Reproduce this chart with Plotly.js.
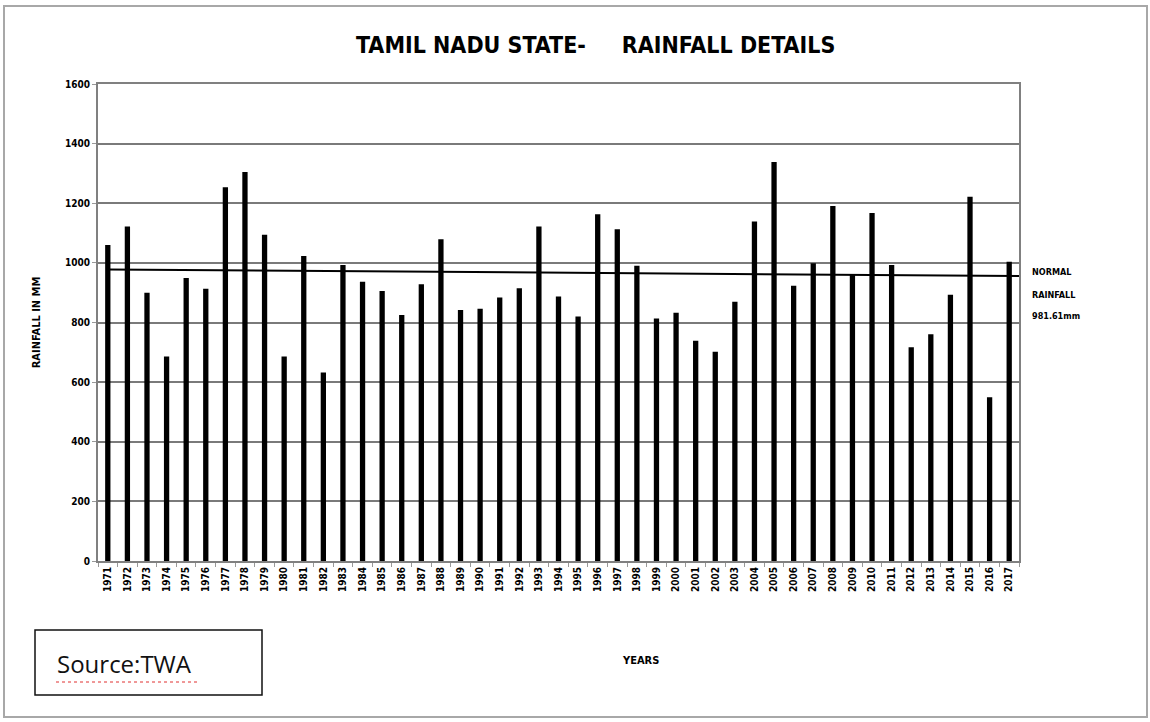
<!DOCTYPE html>
<html>
<head>
<meta charset="utf-8">
<script src="https://cdn.plot.ly/plotly-3.0.1.min.js"></script>
<style>html,body{margin:0;padding:0;background:#fff}#chart{width:1150px;height:722px}</style>
</head>
<body>
<div id="chart"></div>
<script>
const years = [1971,1972,1973,1974,1975,1976,1977,1978,1979,1980,1981,1982,1983,1984,1985,1986,1987,1988,1989,1990,1991,1992,1993,1994,1995,1996,1997,1998,1999,2000,2001,2002,2003,2004,2005,2006,2007,2008,2009,2010,2011,2012,2013,2014,2015,2016,2017];
const yearLabels = years.map(String);
const rainfall = [1060,1122,900,686,949,913,1254,1305,1094,686,1023,632,993,937,906,825,928,1079,842,846,884,915,1122,887,820,1163,1113,990,813,833,739,702,870,1139,1338,923,999,1191,960,1167,993,717,761,893,1222,549,1004];
const normalYears = [1971, 2017.5];
const normalValues = [978, 956];
const normalLabel = ["NORMAL", "RAINFALL", "981.61mm"];
const yTicks = [0,200,400,600,800,1000,1200,1400,1600];

const L = 98, R = 1019, T = 84, B = 561;
const W = R - L, H = B - T;
const px = v => (v - L) / W;
const py = v => (B - v) / H;

const boldFont = "Liberation Sans Narrow, DejaVu Sans Condensed, Arial Narrow, Liberation Sans, Arial, sans-serif";

const traces = [
  {
    type: 'bar', x: years, y: rainfall, width: 0.27,
    marker: {color: '#000000', line: {width: 0}},
    hoverinfo: 'x+y', showlegend: false
  },
  {
    type: 'scatter', mode: 'lines', x: normalYears, y: normalValues,
    line: {color: '#000000', width: 2}, showlegend: false, hoverinfo: 'skip'
  }
];

const layout = {
  width: 1150, height: 722,
  margin: {l: L, r: 1150 - R, t: T, b: 722 - B},
  paper_bgcolor: '#ffffff', plot_bgcolor: '#ffffff',
  font: {family: boldFont, color: '#000000'},
  title: {
    text: '<b>TAMIL NADU STATE-     RAINFALL DETAILS</b>',
    font: {family: boldFont, size: 23, color: '#000000'},
    x: 0.518, xref: 'container', xanchor: 'center',
    y: 1 - 45 / 722, yref: 'container', yanchor: 'middle'
  },
  xaxis: {
    range: [1970.5, 2017.5],
    tickmode: 'array', tickvals: years, ticktext: yearLabels.map(s => '<b>' + s + '</b>'),
    tickangle: -90, tickfont: {size: 10, family: boldFont},
    ticks: '', showgrid: false, zeroline: false,
    showline: true, linecolor: '#808080', linewidth: 2, mirror: true,
    minor: {tickmode: 'linear', tick0: 1970.5, dtick: 1, ticks: 'outside', ticklen: 4, tickcolor: '#999999', showgrid: false},
    fixedrange: true
  },
  yaxis: {
    range: [0, 1600],
    tickmode: 'array', tickvals: yTicks, ticktext: yTicks.map(v => '<b>' + v + '</b>'),
    tickfont: {size: 10, family: boldFont},
    ticks: 'outside', ticklen: 4, tickcolor: '#999999',
    showgrid: true, gridcolor: '#7a7a7a', gridwidth: 2,
    zeroline: false, showline: true, linecolor: '#808080', linewidth: 2, mirror: true,
    title: {text: '<b>RAINFALL IN MM</b>', font: {size: 11, family: boldFont}, standoff: 22},
    fixedrange: true
  },
  shapes: [
    {type: 'rect', xref: 'paper', yref: 'paper', x0: px(4), x1: px(1147), y0: py(717), y1: py(6),
     line: {color: '#a8a8a8', width: 2}, fillcolor: 'rgba(0,0,0,0)', layer: 'below'},
    {type: 'rect', xref: 'paper', yref: 'paper', x0: px(35), x1: px(262), y0: py(695), y1: py(630),
     line: {color: '#111111', width: 1.5}, fillcolor: 'rgba(0,0,0,0)'},
    {type: 'line', xref: 'paper', yref: 'paper', x0: px(56), x1: px(200), y0: py(682), y1: py(682),
     line: {color: '#e03030', width: 1, dash: 'dot'}}
  ],
  annotations: [
    {xref: 'paper', yref: 'paper', x: px(640), y: py(660), text: '<b>YEARS</b>', showarrow: false,
     font: {size: 11, family: boldFont}, xanchor: 'center', yanchor: 'middle'},
    {xref: 'paper', yref: 'paper', x: px(55), y: py(664), text: 'Source:TWA', showarrow: false,
     font: {size: 24, family: 'Liberation Sans Narrow, Open Sans, Liberation Sans, sans-serif', color: '#111111'}, xanchor: 'left', yanchor: 'middle'}
  ].concat(normalLabel.map((t, i) => ({
    xref: 'paper', yref: 'paper', x: px(1030), y: py([272, 295, 316][i]), text: '<b>' + t + '</b>',
    showarrow: false, font: {size: 9, family: boldFont}, xanchor: 'left', yanchor: 'middle'
  })))
};

Plotly.newPlot('chart', traces, layout, {displayModeBar: false, staticPlot: true});
</script>
</body>
</html>
